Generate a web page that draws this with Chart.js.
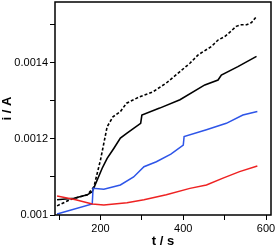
<!DOCTYPE html>
<html><head><meta charset="utf-8">
<script src="https://cdn.jsdelivr.net/npm/chart.js@4/dist/chart.umd.min.js"></script>
<style>html,body{margin:0;padding:0;background:#fff}#w{width:275px;height:249px}</style>
</head><body><div id="w"><canvas id="c"></canvas></div>
<script>
const redT = [95,140,180,208,264,305,359,416,456,496,536,579];
const redI = [0.00105,0.00104,0.001029,0.001026,0.001032,0.00104,0.001053,0.00107,0.001079,0.001097,0.001114,0.001129];
const blueT = [95,180,182,208,248,280,305,335,370,400,402,456,504,544,579];
const blueI = [0.0010026,0.001029,0.00107,0.001068,0.001079,0.0011,0.001127,0.00114,0.00116,0.001184,0.001206,0.001224,0.001241,0.001263,0.001272];
const solidT = [95,136,168,180,192,204,216,232,248,264,280,297,300,343,392,452,484,492,532,577];
const solidI = [0.00104,0.001044,0.001053,0.001061,0.001092,0.001123,0.001149,0.001175,0.001202,0.001215,0.001228,0.001241,0.001263,0.001281,0.001303,0.001342,0.001355,0.001368,0.00139,0.001417];
const dashT = [95,128,168,184,200,216,230,248,263,295,327,359,392,416,436,468,484,500,512,528,540,553,565,577];
const dashI = [0.001024,0.001041,0.001053,0.001074,0.001145,0.001232,0.001258,0.001272,0.001294,0.001311,0.001324,0.001347,0.001377,0.001399,0.001421,0.001443,0.00146,0.001469,0.00148,0.001496,0.0015,0.0015,0.001506,0.001522];
const xTicks = [100,200,300,400,500,600];
const xLabels = [200,400,600];
const yTicks = [0.001,0.0011,0.0012,0.0013,0.0014,0.0015];
const yLabels = ['0.001','0.0012','0.0014'];

const pts = (t, v) => t.map((x, k) => ({x, y: v[k]}));
const frame = {id:'frame', afterDraw(ch){const a=ch.chartArea,c=ch.ctx;c.save();c.strokeStyle='#000';c.lineWidth=1.5;c.strokeRect(a.left,a.top,a.right-a.left,a.bottom-a.top);c.restore();}};
const font = {family:'Liberation Sans, Arial, sans-serif', size:11};
new Chart(document.getElementById('c'), {
  type:'line',
  data:{datasets:[
    {data:pts(redT,redI), borderColor:'#ee2222', borderWidth:1.5},
    {data:pts(blueT,blueI), borderColor:'#2e55e8', borderWidth:1.5},
    {data:pts(solidT,solidI), borderColor:'#000', borderWidth:1.6},
    {data:pts(dashT,dashI), borderColor:'#000', borderWidth:1.6, borderDash:[3,2]}
  ]},
  plugins:[frame],
  options:{
    responsive:true, maintainAspectRatio:false, animation:false,
    elements:{point:{radius:0}, line:{tension:0}},
    layout:{padding:{top:2,right:4,left:0,bottom:0}},
    plugins:{legend:{display:false}, tooltip:{enabled:false}},
    scales:{
      x:{type:'linear', min:90, max:612,
        afterBuildTicks(s){s.ticks=xTicks.map(v=>({value:v}));},
        afterFit(s){s.height=34;s.paddingLeft=0;s.paddingRight=0;},
        ticks:{color:'#000', font, padding:2, maxRotation:0, autoSkip:false,
          callback:v=>xLabels.includes(v)?String(v):''},
        grid:{drawOnChartArea:false, color:'#000', tickLength:5, tickWidth:1},
        border:{display:false},
        title:{display:true, text:'t / s', color:'#000', font:{family:font.family,size:13,weight:'bold'}, padding:{top:0,bottom:0}}
      },
      y:{type:'linear', min:0.001, max:0.00156,
        afterBuildTicks(s){s.ticks=yTicks.map(v=>({value:v}));},
        afterFit(s){s.width=55;s.paddingTop=0;s.paddingBottom=0;},
        ticks:{color:'#000', font, padding:2, autoSkip:false,
          callback:v=>{const t=String(parseFloat(v.toFixed(4)));return yLabels.includes(t)?t:'';}},
        grid:{drawOnChartArea:false, color:'#000', tickLength:5, tickWidth:1},
        border:{display:false},
        title:{display:true, text:'i / A', color:'#000', font:{family:font.family,size:13,weight:'bold'}, padding:{top:0,bottom:0}}
      }
    }
  }
});
</script></body></html>
